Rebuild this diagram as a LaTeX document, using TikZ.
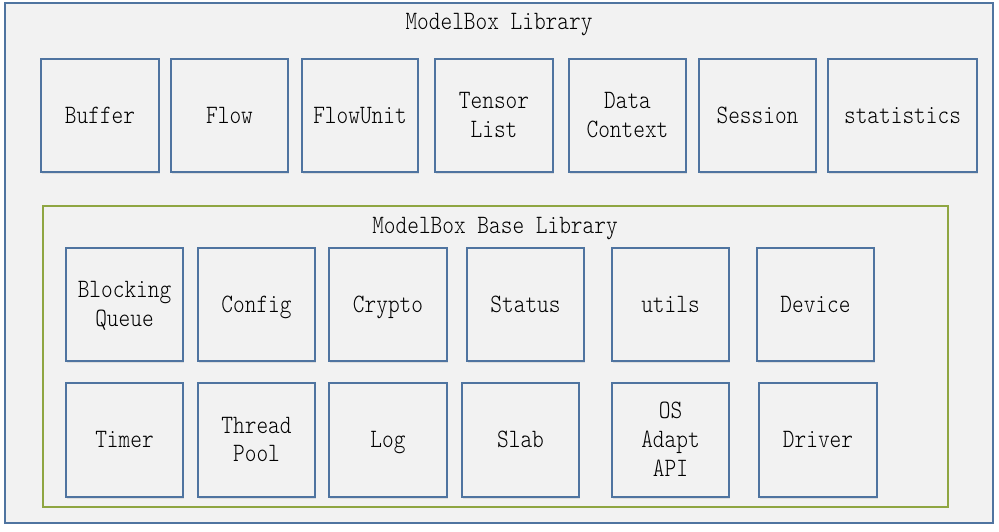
\documentclass[tikz,border=0pt]{standalone}
\usepackage{fontspec}
\usetikzlibrary{shadows}
\newfontfamily\lblfont[FakeStretch=0.84]{Latin Modern Mono Light}
\definecolor{boxblue}{RGB}{79,116,160}
\definecolor{libgreen}{RGB}{143,166,66}
\definecolor{boxfill}{RGB}{242,242,242}
\newcommand{\lns}[1]{#1\rule[-6.9pt]{0pt}{28.8pt}}
\tikzset{
  lbl/.style={font=\lblfont\fontsize{26.5}{28.8}\selectfont, text=black, align=center},
  comp/.style={lbl, draw=boxblue, line width=1.6pt, fill=boxfill, inner sep=0pt,
    drop shadow={opacity=0.18, shadow xshift=1pt, shadow yshift=-1.5pt}},
  outerbox/.style={draw=boxblue, line width=1.6pt, fill=boxfill},
  innerbox/.style={draw=libgreen, line width=1.6pt},
}
\begin{document}
\begin{tikzpicture}[x=1pt,y=-1pt]
\useasboundingbox (0,0) rectangle (999,531);
\fill[white] (0,0) rectangle (999,531);
\node[outerbox, minimum width=988pt, minimum height=520pt, inner sep=0pt] (outer) at (499,263) {};
\node[lbl] (t1) at (499,22) {\lns{ModelBox Library}};
% top row
\node[comp, minimum width=118pt, minimum height=113pt] (buffer) at (100,115.5) {\lns{Buffer}};
\node[comp, minimum width=117pt, minimum height=113pt] (flow) at (229.5,115.5) {\lns{Flow}};
\node[comp, minimum width=116pt, minimum height=113pt] (flowunit) at (360,115.5) {\lns{FlowUnit}};
\node[comp, minimum width=118pt, minimum height=113pt] (tensor) at (494,115.5) {\lns{Tensor}\\\lns{List}};
\node[comp, minimum width=117pt, minimum height=113pt] (data) at (627.5,115.5) {\lns{Data}\\\lns{Context}};
\node[comp, minimum width=117pt, minimum height=113pt] (session) at (757.5,115.5) {\lns{Session}};
\node[comp, minimum width=149pt, minimum height=113pt] (stats) at (902.5,115.5) {\lns{statistics}};
% base library
\node[innerbox, minimum width=905pt, minimum height=301pt, inner sep=0pt] (base) at (495.5,356.5) {};
\node[lbl] (t2) at (495,226) {\lns{ModelBox Base Library}};
% row 2
\node[comp, minimum width=117pt, minimum height=113pt] (bq) at (124.5,304.5) {\lns{Blocking}\\\lns{Queue}};
\node[comp, minimum width=117pt, minimum height=113pt] (config) at (256.5,304.5) {\lns{Config}};
\node[comp, minimum width=118pt, minimum height=113pt] (crypto) at (388,304.5) {\lns{Crypto}};
\node[comp, minimum width=117pt, minimum height=113pt] (status) at (525.5,304.5) {\lns{Status}};
\node[comp, minimum width=117pt, minimum height=113pt] (utils) at (670.5,304.5) {\lns{utils}};
\node[comp, minimum width=117pt, minimum height=113pt] (device) at (815.5,304.5) {\lns{Device}};
% row 3
\node[comp, minimum width=117pt, minimum height=114pt] (timer) at (124.5,440) {\lns{Timer}};
\node[comp, minimum width=117pt, minimum height=114pt] (tpool) at (256.5,440) {\lns{Thread}\\\lns{Pool}};
\node[comp, minimum width=118pt, minimum height=114pt] (log) at (388,440) {\lns{Log}};
\node[comp, minimum width=117pt, minimum height=114pt] (slab) at (520.5,440) {\lns{Slab}};
\node[comp, minimum width=117pt, minimum height=114pt] (osapi) at (670.5,440) {\lns{OS}\\\lns{Adapt}\\\lns{API}};
\node[comp, minimum width=118pt, minimum height=114pt] (driver) at (818,440) {\lns{Driver}};
\end{tikzpicture}
\end{document}
